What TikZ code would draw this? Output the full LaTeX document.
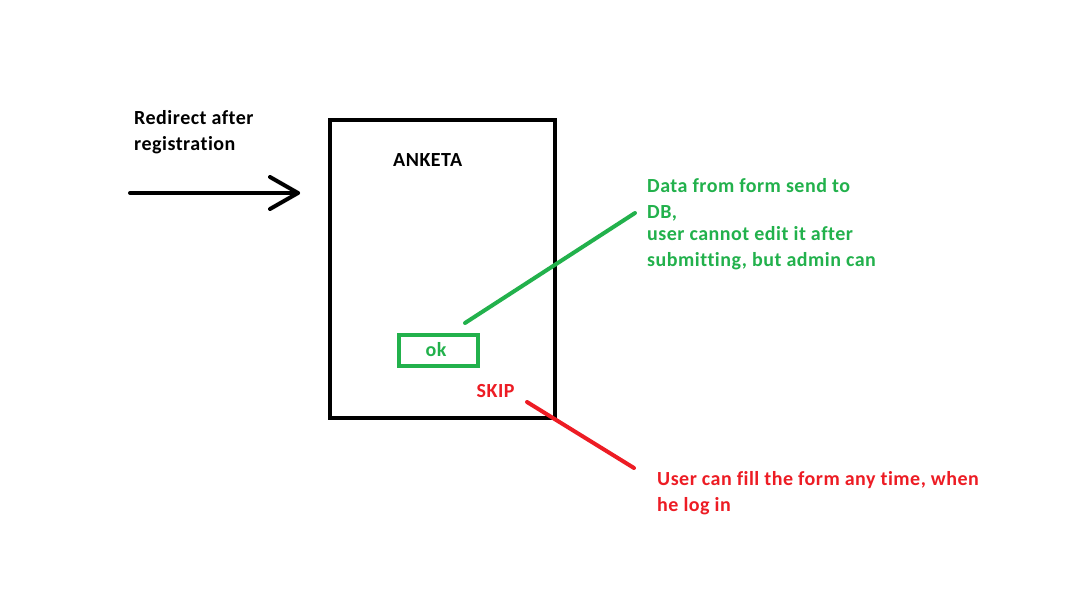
\documentclass[tikz,border=0pt]{standalone}
\usepackage{fontspec}
\setmainfont[Ligatures={NoCommon,NoRare,NoContextual},LetterSpace=2.5]{Carlito}
\definecolor{pgreen}{HTML}{22B14C}
\definecolor{pred}{HTML}{ED1C24}
\begin{document}
\begin{tikzpicture}[x=1pt,y=-1pt,
  lbl/.style={inner sep=0pt,anchor=base west,font=\fontsize{20}{26}\selectfont\bfseries},
  thick4/.style={line width=4pt}]
\useasboundingbox[fill=white] (0,0) rectangle (1092,609);
% labels
\node[lbl] (redir1) at (134,125) {Redirect after};
\node[lbl] (redir2) at (134,151) {registration};
% arrow
\coordinate (astart) at (130,193);
\coordinate (atip) at (298,193);
\draw[thick4,line cap=round] (astart) -- (atip);
\draw[thick4,line cap=round,line join=round] (270,177) -- (atip) -- (270,209);
% form box
\node[draw,line width=4pt,minimum width=225pt,minimum height=298pt,inner sep=0pt] (form) at (442.5,269) {};
\node[lbl] (anketa) at (393,167) {ANKETA};
% ok button
\node[draw=pgreen,line width=4pt,minimum width=79pt,minimum height=31pt,inner sep=0pt] (okbox) at (438.5,350.5) {};
\node[lbl,text=pgreen,anchor=base] (ok) at (436,357) {ok};
\node[lbl,text=pred] (skip) at (476.5,397) {SKIP};
% green note
\node[lbl,text=pgreen] (g1) at (647,193) {Data from form send to};
\node[lbl,text=pgreen] (g2) at (647,219) {DB,};
\node[lbl,text=pgreen] (g3) at (647,241) {user cannot edit it after};
\node[lbl,text=pgreen] (g4) at (647,267) {submitting, but admin can};
\coordinate (gs) at (465,323);
\coordinate (ge) at (635,213);
\draw[pgreen,thick4,line cap=round] (gs) -- (ge);
% red note
\node[lbl,text=pred] (r1) at (657,485) {User can fill the form any time, when};
\node[lbl,text=pred] (r2) at (657,511) {he log in};
\coordinate (rs) at (527,402);
\coordinate (re) at (634,468);
\draw[pred,thick4,line cap=round] (rs) -- (re);
\end{tikzpicture}
\end{document}
